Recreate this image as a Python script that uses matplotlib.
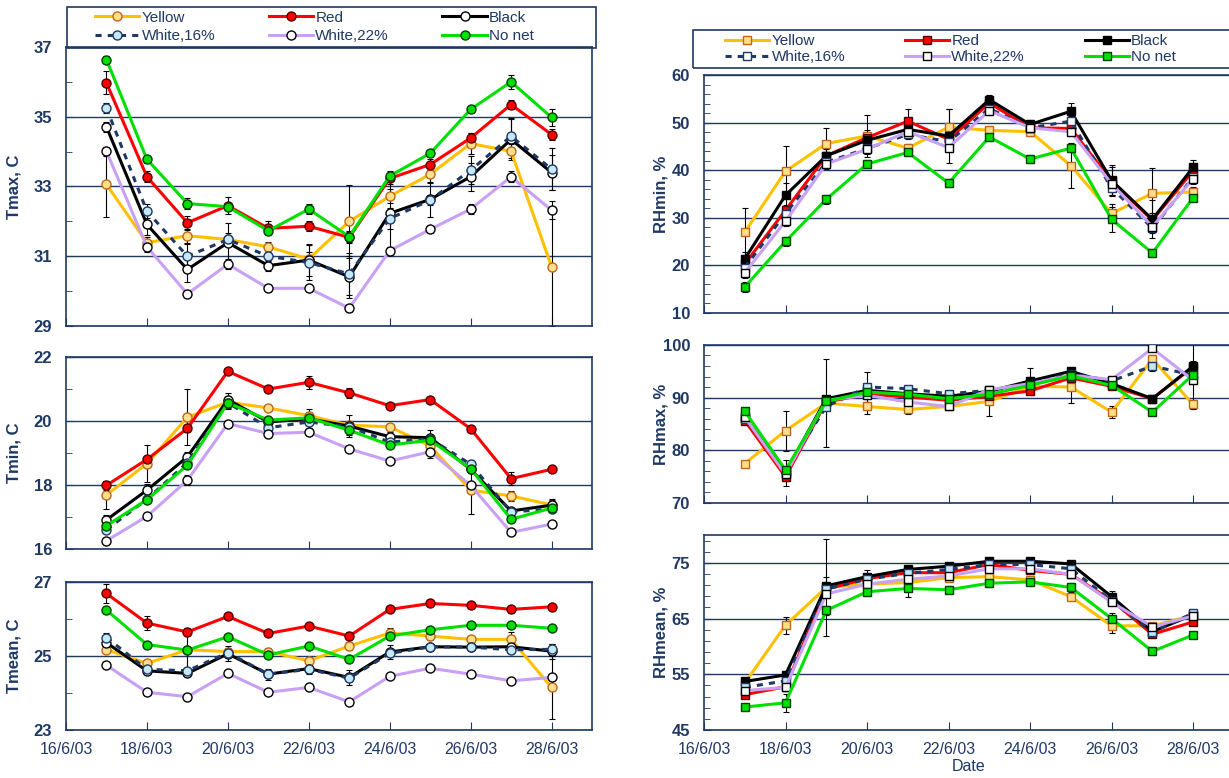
#!/usr/bin/env python3
"""Air temperature and humidity under coloured shade nets, 17-28 June 2003."""

import matplotlib.pyplot as plt
from matplotlib.lines import Line2D
from matplotlib.patches import Rectangle
from matplotlib.ticker import MultipleLocator

plt.rcParams["font.family"] = ["Liberation Sans", "DejaVu Sans"]

NAVY = "#1F3864"

days = [17, 18, 19, 20, 21, 22, 23, 24, 25, 26, 27, 28]
date_ticks = [16, 18, 20, 22, 24, 26, 28]
date_labels = ["16/6/03", "18/6/03", "20/6/03", "22/6/03", "24/6/03", "26/6/03", "28/6/03"]
names = ["Yellow", "Red", "Black", "White,16%", "White,22%", "No net"]

# --- Tmax (C) ---
tmax_yellow = [33.06, 31.39, 31.59, 31.48, 31.27, 30.92, 32.0, 32.72, 33.35, 34.23, 34.01, 30.7]
tmax_red = [35.97, 33.28, 31.96, 32.45, 31.8, 31.86, 31.54, 33.23, 33.63, 34.39, 35.35, 34.49]
tmax_black = [34.71, 31.91, 30.62, 31.39, 30.73, 30.89, 30.41, 32.23, 32.63, 33.28, 34.35, 33.4]
tmax_white16 = [35.25, 32.29, 31.0, 31.48, 31.0, 30.82, 30.49, 32.08, 32.61, 33.47, 34.44, 33.5]
tmax_white22 = [34.01, 31.27, 29.92, 30.77, 30.08, 30.08, 29.51, 31.16, 31.77, 32.35, 33.28, 32.32]
tmax_nonet = [36.64, 33.78, 32.51, 32.42, 31.73, 32.35, 31.56, 33.3, 33.95, 35.21, 36.0, 34.98]
tmax_err_yellow = [0.93, 0.15, 0.2, 0.1, 0.15, 0.2, 1.05, 0.2, 0.25, 0.3, 0.2, 1.7]
tmax_err_red = [0.33, 0.15, 0.2, 0.25, 0.2, 0.15, 0.15, 0.15, 0.15, 0.15, 0.12, 0.15]
tmax_err_black = [0.15, 0.3, 0.35, 0.55, 0.15, 0.45, 0.6, 1.0, 0.5, 0.4, 0.6, 0.5]
tmax_err_white16 = [0.15, 0.2, 0.35, 0.2, 0.15, 0.5, 0.6, 0.3, 0.15, 0.4, 0.5, 0.6]
tmax_err_white22 = [0.13, 0.15, 0.1, 0.15, 0.1, 0.1, 0.1, 0.1, 0.1, 0.15, 0.15, 0.25]
tmax_err_nonet = [0.1, 0.1, 0.15, 0.1, 0.1, 0.15, 0.15, 0.15, 0.1, 0.1, 0.2, 0.25]

# --- Tmin (C) ---
tmin_yellow = [17.69, 18.67, 20.12, 20.59, 20.41, 20.17, 19.87, 19.82, 19.22, 17.84, 17.66, 17.38]
tmin_red = [17.99, 18.8, 19.77, 21.55, 21.0, 21.21, 20.88, 20.48, 20.67, 19.76, 18.2, 18.49]
tmin_black = [16.91, 17.84, 18.88, 20.67, 19.97, 20.07, 19.84, 19.51, 19.48, 18.49, 17.19, 17.37]
tmin_white16 = [16.6, 17.56, 18.7, 20.57, 19.79, 19.97, 19.82, 19.34, 19.45, 18.65, 17.16, 17.25]
tmin_white22 = [16.26, 17.02, 18.15, 19.92, 19.61, 19.65, 19.13, 18.75, 19.04, 17.99, 16.52, 16.78]
tmin_nonet = [16.73, 17.54, 18.62, 20.57, 20.03, 20.1, 19.71, 19.25, 19.4, 18.51, 16.93, 17.28]
tmin_err_yellow = [0.45, 0.57, 0.87, 0.2, 0.1, 0.1, 0.1, 0.1, 0.1, 0.75, 0.15, 0.15]
tmin_err_red = [0.15, 0.1, 0.1, 0.05, 0.1, 0.2, 0.15, 0.05, 0.05, 0.05, 0.2, 0.05]
tmin_err_black = [0.15, 0.2, 0.15, 0.2, 0.1, 0.3, 0.35, 0.15, 0.25, 0.1, 0.1, 0.2]
tmin_err_white16 = [0.1, 0.1, 0.1, 0.15, 0.1, 0.1, 0.1, 0.1, 0.1, 0.1, 0.1, 0.1]
tmin_err_white22 = [0.1, 0.05, 0.15, 0.05, 0.1, 0.1, 0.05, 0.1, 0.2, 0.1, 0.05, 0.1]
tmin_err_nonet = [0.1, 0.1, 0.1, 0.1, 0.1, 0.1, 0.15, 0.1, 0.1, 0.1, 0.1, 0.1]

# --- Tmean (C) ---
tmean_yellow = [25.17, 24.8, 25.17, 25.12, 25.12, 24.87, 25.27, 25.62, 25.54, 25.45, 25.45, 24.15]
tmean_red = [26.69, 25.89, 25.65, 26.07, 25.61, 25.81, 25.54, 26.26, 26.42, 26.37, 26.26, 26.33]
tmean_black = [25.36, 24.6, 24.53, 25.06, 24.51, 24.66, 24.42, 25.11, 25.25, 25.24, 25.25, 25.13]
tmean_white16 = [25.5, 24.64, 24.6, 25.09, 24.51, 24.64, 24.4, 25.07, 25.25, 25.24, 25.17, 25.18]
tmean_white22 = [24.75, 24.02, 23.9, 24.53, 24.02, 24.15, 23.76, 24.45, 24.67, 24.51, 24.33, 24.42]
tmean_nonet = [26.24, 25.31, 25.16, 25.52, 25.03, 25.27, 24.91, 25.54, 25.71, 25.83, 25.83, 25.75]
tmean_err_yellow = [0.1, 0.1, 0.5, 0.1, 0.1, 0.1, 0.1, 0.15, 0.1, 0.1, 0.2, 0.85]
tmean_err_red = [0.27, 0.2, 0.1, 0.05, 0.05, 0.05, 0.1, 0.05, 0.05, 0.08, 0.1, 0.08]
tmean_err_black = [0.1, 0.05, 0.05, 0.2, 0.15, 0.15, 0.2, 0.2, 0.05, 0.05, 0.1, 0.2]
tmean_err_white16 = [0.12, 0.05, 0.05, 0.05, 0.05, 0.05, 0.05, 0.05, 0.05, 0.05, 0.05, 0.15]
tmean_err_white22 = [0.05, 0.05, 0.05, 0.05, 0.05, 0.05, 0.05, 0.05, 0.05, 0.05, 0.05, 0.05]
tmean_err_nonet = [0.08, 0.05, 0.05, 0.05, 0.08, 0.05, 0.05, 0.08, 0.05, 0.05, 0.05, 0.05]

# --- RHmin (%) ---
rhmin_yellow = [26.97, 39.78, 45.6, 47.19, 44.63, 49.06, 48.37, 48.09, 40.96, 30.92, 35.14, 35.42]
rhmin_red = [20.3, 31.6, 43.03, 46.84, 50.3, 46.5, 54.1, 48.9, 48.78, 37.7, 29.5, 39.9]
rhmin_black = [21.36, 34.72, 43.03, 46.29, 48.57, 47.19, 54.81, 49.61, 52.38, 37.84, 29.67, 40.61]
rhmin_white16 = [19.5, 30.9, 41.65, 44.56, 47.5, 46.0, 52.94, 48.9, 50.3, 36.3, 27.8, 38.5]
rhmin_white22 = [18.45, 29.3, 41.3, 44.42, 48.09, 44.76, 52.52, 48.9, 48.09, 37.15, 28.14, 38.19]
rhmin_nonet = [15.47, 25.03, 33.89, 41.3, 43.73, 37.29, 46.98, 42.34, 44.63, 29.67, 22.6, 34.24]
rhmin_err_yellow = [5.0, 5.3, 3.2, 4.5, 0.8, 3.8, 0.8, 1.0, 4.7, 2.0, 5.3, 1.0]
rhmin_err_red = [1.5, 1.0, 1.5, 1.5, 2.5, 1.5, 1.5, 1.0, 1.0, 3.0, 1.5, 1.5]
rhmin_err_black = [1.5, 2.5, 2.5, 1.0, 1.0, 5.6, 1.0, 1.0, 1.8, 3.3, 4.0, 1.5]
rhmin_err_white16 = [1.0, 1.0, 1.0, 1.0, 1.0, 1.0, 1.0, 1.0, 1.0, 1.5, 1.0, 1.0]
rhmin_err_white22 = [1.0, 1.0, 1.0, 1.0, 1.0, 1.0, 1.0, 1.0, 1.0, 1.0, 1.0, 1.0]
rhmin_err_nonet = [1.0, 1.0, 1.0, 0.8, 0.8, 0.8, 0.8, 0.8, 0.8, 2.6, 0.8, 0.8]

# --- RHmax (%) ---
rhmax_yellow = [77.47, 83.73, 88.96, 88.32, 87.75, 88.32, 89.28, 92.15, 92.02, 87.24, 97.32, 88.7]
rhmax_red = [85.64, 74.98, 89.17, 90.64, 90.13, 89.49, 90.26, 91.28, 93.75, 92.15, 89.8, 95.85]
rhmax_black = [86.2, 75.75, 89.8, 91.38, 90.74, 90.26, 91.2, 93.17, 95.0, 92.66, 89.8, 95.98]
rhmax_white16 = [85.96, 76.07, 88.3, 92.02, 91.7, 90.74, 91.38, 92.66, 94.58, 93.17, 96.0, 94.26]
rhmax_white22 = [86.28, 75.43, 89.5, 90.45, 89.17, 88.32, 91.51, 92.66, 94.26, 93.43, 99.36, 93.3]
rhmax_nonet = [87.43, 76.26, 89.3, 91.06, 90.64, 89.8, 90.64, 92.34, 94.13, 92.34, 87.24, 94.38]
rhmax_err_yellow = [0.4, 3.8, 8.3, 1.5, 0.8, 0.5, 2.7, 0.5, 3.1, 1.2, 0.8, 0.8]
rhmax_err_red = [0.5, 0.8, 0.5, 0.5, 0.5, 0.5, 0.5, 0.5, 0.5, 0.5, 0.5, 0.5]
rhmax_err_black = [0.5, 2.5, 0.5, 3.5, 0.5, 0.5, 0.5, 2.4, 0.5, 0.5, 0.5, 1.0]
rhmax_err_white16 = [0.5, 0.5, 0.5, 0.5, 0.5, 0.5, 0.5, 0.5, 0.5, 0.5, 1.0, 6.4]
rhmax_err_white22 = [0.5, 0.5, 0.5, 0.5, 0.5, 0.5, 0.5, 0.5, 0.5, 0.5, 0.5, 0.8]
rhmax_err_nonet = [0.5, 0.5, 0.5, 0.5, 0.5, 0.5, 0.5, 0.5, 0.5, 0.5, 0.5, 0.5]

# --- RHmean (%) ---
rhmean_yellow = [53.41, 63.82, 70.59, 71.18, 71.47, 72.35, 72.53, 71.94, 68.94, 63.7, 63.7, 65.59]
rhmean_red = [51.35, 52.76, 70.29, 72.18, 73.24, 73.24, 74.71, 73.65, 72.94, 68.24, 62.18, 64.41]
rhmean_black = [53.71, 54.88, 70.88, 72.53, 73.82, 74.41, 75.29, 75.29, 74.82, 68.94, 62.65, 65.7]
rhmean_white16 = [52.65, 53.82, 70.29, 72.06, 73.12, 73.82, 74.71, 74.71, 73.94, 68.24, 62.53, 66.0]
rhmean_white22 = [52.06, 52.65, 69.41, 71.18, 72.06, 72.65, 73.94, 73.94, 72.94, 67.94, 63.53, 65.47]
rhmean_nonet = [49.12, 49.88, 66.47, 69.82, 70.41, 70.18, 71.35, 71.59, 70.59, 65.0, 59.12, 62.06]
rhmean_err_yellow = [0.5, 1.5, 8.7, 0.8, 0.5, 0.5, 0.5, 0.5, 0.5, 1.2, 0.5, 0.8]
rhmean_err_red = [0.5, 0.5, 0.5, 0.5, 0.5, 0.5, 0.5, 0.5, 0.5, 0.5, 0.5, 0.5]
rhmean_err_black = [0.5, 0.8, 1.5, 1.2, 0.6, 0.6, 0.6, 0.6, 0.6, 1.0, 0.8, 0.8]
rhmean_err_white16 = [0.5, 0.5, 0.5, 0.5, 0.5, 0.5, 0.5, 0.5, 0.5, 0.5, 0.5, 0.5]
rhmean_err_white22 = [0.5, 0.5, 0.5, 0.5, 0.5, 0.5, 0.5, 0.5, 0.5, 0.5, 0.5, 0.5]
rhmean_err_nonet = [0.5, 1.6, 0.8, 0.8, 1.5, 0.6, 0.6, 0.6, 0.8, 1.0, 0.6, 0.6]

LIGHT_BLUE = "#C6E9F7"
# line colour, line style, marker face (left, right), marker edge
styles = {
    "Yellow": ("#FFC000", "-", "#FFE08A", "#FFE08A", "#C0661A"),
    "Red": ("#FF0000", "-", "#FF0000", "#FF0000", "#500000"),
    "Black": ("#000000", "-", "white", "#000000", "#000000"),
    "White,16%": (NAVY, (0, (2, 2)), LIGHT_BLUE, LIGHT_BLUE, NAVY),
    "White,22%": ("#C8A0F5", "-", "white", "white", "#000000"),
    "No net": ("#00E000", "-", "#00E000", "#00E000", "#004000"),
}


def draw_panel(ax, values, errors, side, ylim, major, offset, minor, ylabel, bottom,
               face_override=None):
    marker = "o" if side == 0 else "s"
    ms = 6.5 if side == 0 else 6.0
    for name, y, e in zip(names, values, errors):
        color, ls, mfc_l, mfc_r, mec = styles[name]
        mfc = mfc_l if side == 0 else mfc_r
        if face_override and name in face_override:
            mfc = face_override[name]
        ax.errorbar(days, y, yerr=e, fmt="none", ecolor="black",
                    elinewidth=0.8, capsize=2.5, capthick=0.8, zorder=2)
        ax.plot(days, y, color=color, ls=ls, lw=2.2, marker=marker, ms=ms,
                mfc=mfc, mec=mec, mew=1.0, zorder=3)

    ax.set_xlim(16, 29)
    ax.set_ylim(*ylim)
    ax.yaxis.set_major_locator(MultipleLocator(major, offset=offset))
    ax.yaxis.set_minor_locator(MultipleLocator(minor, offset=offset % minor))
    ax.grid(axis="y", which="major", color=NAVY, lw=1.0)
    ax.set_axisbelow(True)
    ax.set_xticks(date_ticks)
    if bottom:
        ax.set_xticklabels(date_labels, fontsize=11.5, color=NAVY)
    else:
        ax.set_xticklabels([])
    ax.tick_params(axis="x", direction="in", length=6, color=NAVY, pad=9)
    ax.tick_params(axis="y", which="both", direction="in", color=NAVY,
                   labelsize=12, labelcolor=NAVY, pad=10)
    ax.tick_params(axis="y", which="major", length=5)
    ax.tick_params(axis="y", which="minor", length=4)
    for lab in ax.get_yticklabels():
        lab.set_fontweight("bold")
    for sp in ax.spines.values():
        sp.set_color(NAVY)
        sp.set_linewidth(1.2)
    ax.set_ylabel(ylabel, fontsize=12, fontweight="bold", color=NAVY)


fig = plt.figure(figsize=(12.29, 7.78), dpi=100)

# left column: 66..592 px wide
L0, LW = 0.0537, 0.428
ax_tmax = fig.add_axes([L0, 0.581, LW, 0.3586])
ax_tmin = fig.add_axes([L0, 0.2943, LW, 0.2468])
ax_tmean = fig.add_axes([L0, 0.0617, LW, 0.1902])
# right column: starts at 704 px and runs past the right edge
R0, RW = 0.5728, 0.4312
ax_rhmin = fig.add_axes([R0, 0.5977, RW, 0.3059])
ax_rhmax = fig.add_axes([R0, 0.3535, RW, 0.2031])
ax_rhmean = fig.add_axes([R0, 0.0617, RW, 0.2506])

draw_panel(ax_tmax,
           [tmax_yellow, tmax_red, tmax_black, tmax_white16, tmax_white22, tmax_nonet],
           [tmax_err_yellow, tmax_err_red, tmax_err_black, tmax_err_white16,
            tmax_err_white22, tmax_err_nonet],
           0, (29, 37), 2, 1, 1, "Tmax, C", False)
draw_panel(ax_tmin,
           [tmin_yellow, tmin_red, tmin_black, tmin_white16, tmin_white22, tmin_nonet],
           [tmin_err_yellow, tmin_err_red, tmin_err_black, tmin_err_white16,
            tmin_err_white22, tmin_err_nonet],
           0, (16, 22), 2, 0, 1, "Tmin, C", False)
draw_panel(ax_tmean,
           [tmean_yellow, tmean_red, tmean_black, tmean_white16, tmean_white22, tmean_nonet],
           [tmean_err_yellow, tmean_err_red, tmean_err_black, tmean_err_white16,
            tmean_err_white22, tmean_err_nonet],
           0, (23, 27), 2, 1, 1, "Tmean, C", True)
draw_panel(ax_rhmin,
           [rhmin_yellow, rhmin_red, rhmin_black, rhmin_white16, rhmin_white22, rhmin_nonet],
           [rhmin_err_yellow, rhmin_err_red, rhmin_err_black, rhmin_err_white16,
            rhmin_err_white22, rhmin_err_nonet],
           1, (10, 60), 10, 0, 2, "RHmin, %", False, {"White,16%": "white"})
draw_panel(ax_rhmax,
           [rhmax_yellow, rhmax_red, rhmax_black, rhmax_white16, rhmax_white22, rhmax_nonet],
           [rhmax_err_yellow, rhmax_err_red, rhmax_err_black, rhmax_err_white16,
            rhmax_err_white22, rhmax_err_nonet],
           1, (70, 100), 10, 0, 2, "RHmax, %", False)
draw_panel(ax_rhmean,
           [rhmean_yellow, rhmean_red, rhmean_black, rhmean_white16, rhmean_white22,
            rhmean_nonet],
           [rhmean_err_yellow, rhmean_err_red, rhmean_err_black, rhmean_err_white16,
            rhmean_err_white22, rhmean_err_nonet],
           1, (45, 80), 10, 5, 2, "RHmean, %", True)
ax_rhmean.set_xlabel("Date", fontsize=11.5, color=NAVY, labelpad=1)

for ax in (ax_tmax, ax_tmin, ax_tmean):
    ax.yaxis.set_label_coords(-0.084, 0.5)
for ax in (ax_rhmin, ax_rhmax, ax_rhmean):
    ax.yaxis.set_label_coords(-0.066, 0.5)

# legend filled row by row: three columns of two entries each
legend_order = ["Yellow", "White,16%", "Red", "White,22%", "Black", "No net"]


def legend_handles(side):
    handles = []
    for name in legend_order:
        color, ls, mfc_l, mfc_r, mec = styles[name]
        mfc = mfc_l if side == 0 else mfc_r
        if side == 1 and name == "White,16%":
            mfc = "white"
        handles.append(Line2D([], [], color=color, ls=ls, lw=2.2,
                              marker="o" if side == 0 else "s", ms=6.5 if side == 0 else 6.0,
                              mfc=mfc, mec=mec, mew=1.0))
    return handles


def add_legend(side, anchor, box, colspace, rowspace):
    leg = fig.legend(legend_handles(side), legend_order, ncol=3,
                     bbox_to_anchor=anchor, loc="center left", fontsize=11,
                     frameon=False, handlelength=2.9, handletextpad=0.15,
                     borderpad=0, labelspacing=rowspace, columnspacing=colspace,
                     borderaxespad=0)
    for t in leg.get_texts():
        t.set_color(NAVY)
    fig.patches.append(Rectangle(box[:2], box[2], box[3], transform=fig.transFigure,
                                 fill=False, edgecolor=NAVY, lw=1.2))
    return leg


add_legend(0, (0.0773, 0.9653), (0.0545, 0.9383, 0.4304, 0.0527), 3.5, 0.3)
add_legend(1, (0.5899, 0.937), (0.5639, 0.9126, 0.45, 0.0488), 3.9, 0.12)

fig.savefig("out.png", dpi=100)
